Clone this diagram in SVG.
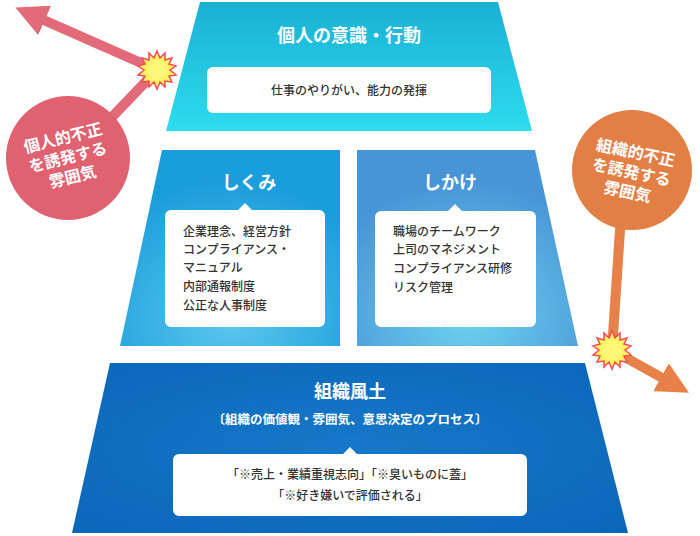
<svg xmlns="http://www.w3.org/2000/svg" width="700" height="536" viewBox="0 0 700 536">
<defs>
<style>
.t{font-family:"Noto Sans CJK JP","Noto Sans",sans-serif;fill:#fff;font-weight:700}
.b{font-family:"Noto Sans CJK JP","Noto Sans",sans-serif;fill:#333;font-size:12px;font-weight:500}
.box{fill:#fff}
</style>
<linearGradient id="g1" x1="0" y1="0" x2="0" y2="1"><stop offset="0" stop-color="#1ab0d4"/><stop offset="1" stop-color="#2ddcee"/></linearGradient>
<radialGradient id="g2" cx="0.5" cy="0.85" r="0.7"><stop offset="0" stop-color="#5cc8ee"/><stop offset="1" stop-color="#1a9ddb"/></radialGradient>
<radialGradient id="g3" cx="0.5" cy="0.85" r="0.7"><stop offset="0" stop-color="#6ed2f0"/><stop offset="1" stop-color="#4794d6"/></radialGradient>
<radialGradient id="g4" cx="0.5" cy="0.5" r="0.7"><stop offset="0" stop-color="#1678c8"/><stop offset="1" stop-color="#0b66b8"/></radialGradient>
<marker id="ap" viewBox="0 0 10 10" refX="5" refY="5" markerWidth="3.2" markerHeight="3.2" orient="auto"><path d="M0,0L10,5L0,10z" fill="#e26a79"/></marker>
<marker id="ao" viewBox="0 0 10 10" refX="5" refY="5" markerWidth="3.2" markerHeight="3.2" orient="auto"><path d="M0,0L10,5L0,10z" fill="#e8804a"/></marker>
<g id="star"><polygon points="0,-19 3,-12 8,-17 8,-10 15,-12 12,-6 19,-4 13,0 19,5 12,6 15,12 8,11 8,17 3,12 0,19 -3,12 -8,17 -8,11 -15,12 -12,6 -19,5 -13,0 -19,-4 -12,-6 -15,-12 -8,-10 -8,-17 -3,-12" fill="#fff45c" stroke="#f24a5a" stroke-width="1.5"/><circle r="10" fill="#fff77a"/></g>
</defs>
<g id="connectors" stroke-width="10" fill="none">
<path d="M157,70 L30,14" stroke="#e26a79" marker-end="url(#ap)"/>
<path d="M157,70 L90,140" stroke="#e26a79"/>
<path d="M612,350 L675,385" stroke="#e8804a" marker-end="url(#ao)"/>
<path d="M612,350 L622,200" stroke="#e8804a"/>
</g>
<g id="n-kojin">
<polygon points="200,2 498,2 532,131 166,131" fill="url(#g1)"/>
<text class="t" x="349" y="42" font-size="18" text-anchor="middle">個人の意識・行動</text>
<rect class="box" x="207" y="67" width="284" height="46" rx="6"/>
<text class="b" x="349" y="95" text-anchor="middle">仕事のやりがい、能力の発揮</text>
</g>
<g id="n-shikumi">
<polygon points="162,150 340,150 340,346 120,346" fill="url(#g2)"/>
<text class="t" x="249" y="189" font-size="18" text-anchor="middle">しくみ</text>
<path class="box" d="M171,210 H238 L245,203 L252,210 H319 a6,6 0 0 1 6,6 V321 a6,6 0 0 1 -6,6 H171 a6,6 0 0 1 -6,-6 V216 a6,6 0 0 1 6,-6z"/>
<text class="b" x="183" y="236">企業理念、経営方針</text>
<text class="b" x="183" y="254">コンプライアンス・</text>
<text class="b" x="183" y="272">マニュアル</text>
<text class="b" x="183" y="291">内部通報制度</text>
<text class="b" x="183" y="310">公正な人事制度</text>
</g>
<g id="n-shikake">
<polygon points="357,150 535,150 578,346 357,346" fill="url(#g3)"/>
<text class="t" x="450" y="189" font-size="18" text-anchor="middle">しかけ</text>
<path class="box" d="M381,211 H448 L455,204 L462,211 H530 a6,6 0 0 1 6,6 V321 a6,6 0 0 1 -6,6 H381 a6,6 0 0 1 -6,-6 V217 a6,6 0 0 1 6,-6z"/>
<text class="b" x="393" y="236">職場のチームワーク</text>
<text class="b" x="393" y="254">上司のマネジメント</text>
<text class="b" x="393" y="273">コンプライアンス研修</text>
<text class="b" x="393" y="292">リスク管理</text>
</g>
<g id="n-soshiki">
<polygon points="110,363 585,363 628,533 72,533" fill="url(#g4)"/>
<text class="t" x="350" y="398" font-size="18" text-anchor="middle">組織風土</text>
<text class="t" x="350" y="424" font-size="12.5" text-anchor="middle">〔組織の価値観・雰囲気、意思決定のプロセス〕</text>
<path class="box" d="M179,454 H343 L350,447 L357,454 H521 a6,6 0 0 1 6,6 V510 a6,6 0 0 1 -6,6 H179 a6,6 0 0 1 -6,-6 V460 a6,6 0 0 1 6,-6z"/>
<text class="b" x="350" y="479" text-anchor="middle">「※売上・業績重視志向」「※臭いものに蓋」</text>
<text class="b" x="350" y="500" text-anchor="middle">「※好き嫌いで評価される」</text>
</g>
<g id="n-kojinfusei">
<circle cx="68" cy="158" r="62" fill="#e0616f"/>
<g transform="rotate(-14 68 158)">
<text class="t" font-size="16" text-anchor="middle"><tspan x="68" y="143">個人的不正</tspan><tspan x="68" y="163">を誘発する</tspan><tspan x="68" y="183">雰囲気</tspan></text>
</g>
</g>
<g id="n-soshikifusei">
<circle cx="632" cy="170" r="60" fill="#e27f45"/>
<g transform="rotate(12 632 170)">
<text class="t" font-size="16" text-anchor="middle"><tspan x="632" y="158">組織的不正</tspan><tspan x="632" y="178">を誘発する</tspan><tspan x="632" y="198">雰囲気</tspan></text>
</g>
</g>
<use href="#star" x="157" y="70"/>
<use href="#star" x="612" y="350"/>
</svg>
